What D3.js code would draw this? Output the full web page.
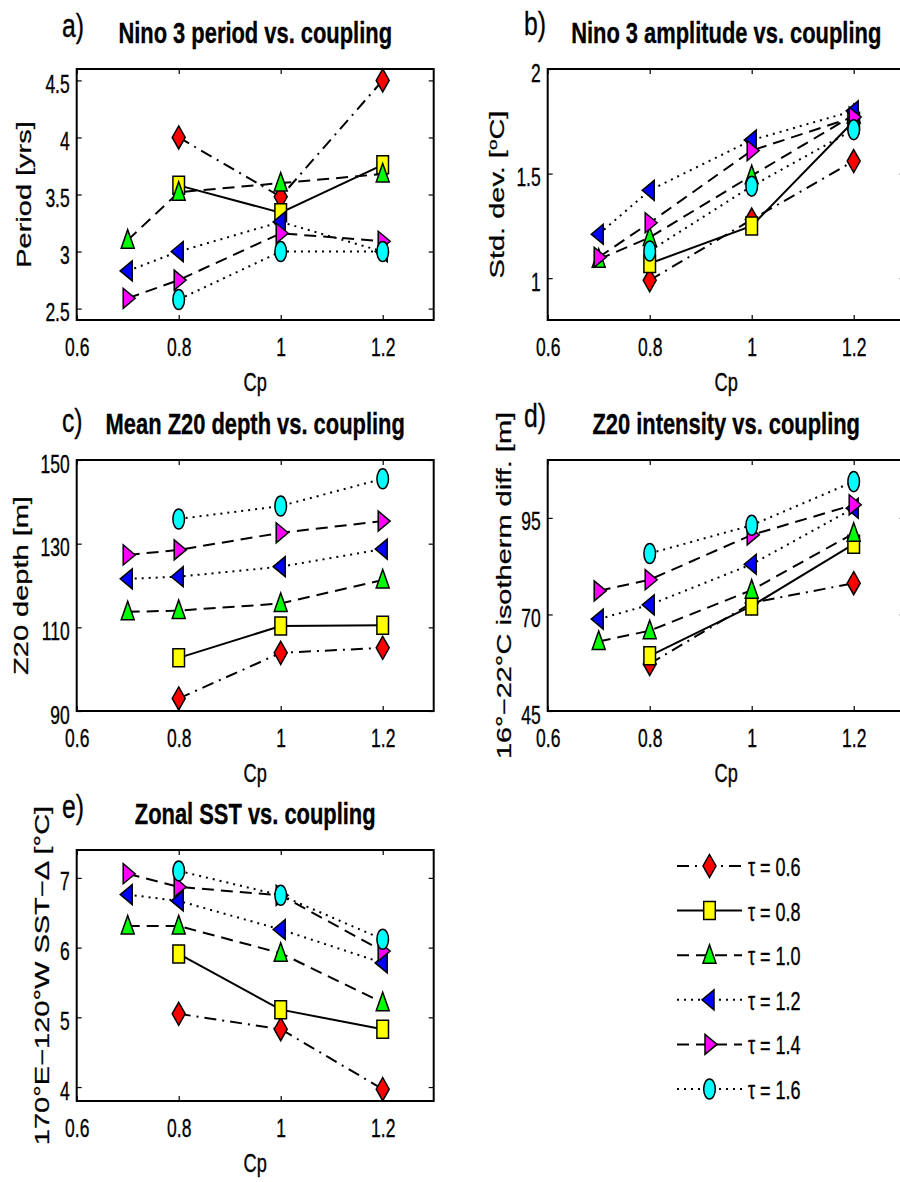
<!DOCTYPE html>
<html>
<head>
<meta charset="utf-8">
<script src="https://cdn.jsdelivr.net/npm/d3@7"></script>
<style>
  body { margin: 0; background: #fff; }
  svg { display: block; }
  text { font-family: "Liberation Sans", Arial, Helvetica, sans-serif; fill: #000; stroke: #000; stroke-width: 0.35px; }
</style>
</head>
<body>
<svg id="fig" width="900" height="1182"></svg>
<script>
// Coupling values (x axis) shared by all panels
const cpValues = [0.7, 0.8, 1.0, 1.2];
const cpTicks = [0.6, 0.8, 1, 1.2];

// Series labels, one per tau
const tauLabels = ['τ = 0.6', 'τ = 0.8', 'τ = 1.0', 'τ = 1.2', 'τ = 1.4', 'τ = 1.6'];

// a) Nino 3 period [yrs], one row per tau, one column per Cp
const periodData = [
  [null, 4.00, 3.48, 4.50],
  [null, 3.58, 3.34, 3.76],
  [3.10, 3.52, 3.60, 3.68],
  [2.83, 3.00, 3.26, 3.00],
  [2.59, 2.75, 3.16, 3.09],
  [null, 2.58, 3.00, 3.00]
];
const periodTicks = [2.5, 3, 3.5, 4, 4.5];

// b) Nino 3 std. dev. [C]
const amplitudeData = [
  [null, 0.99, 1.28, 1.56],
  [null, 1.07, 1.25, 1.75],
  [1.09, 1.195, 1.49, 1.78],
  [1.21, 1.42, 1.66, 1.80],
  [1.10, 1.265, 1.61, 1.77],
  [null, 1.13, 1.44, 1.71]
];
const amplitudeTicks = [1, 1.5, 2];

// c) Mean Z20 depth [m]
const depthData = [
  [null, 93.0, 103.9, 105.1],
  [null, 102.7, 110.3, 110.5],
  [113.7, 114.0, 115.7, 121.3],
  [121.6, 122.1, 124.5, 128.7],
  [127.3, 128.5, 132.6, 135.4],
  [null, 135.9, 139.0, 145.5]
];
const depthTicks = [90, 110, 130, 150];

// d) 16-22C isotherm difference [m]
const intensityData = [
  [null, 57.2, 73.0, 78.1],
  [null, 59.3, 72.2, 88.2],
  [63.0, 65.8, 76.3, 91.0],
  [68.8, 72.5, 83.0, 97.5],
  [76.1, 79.0, 90.6, 98.4],
  [null, 85.8, 93.1, 104.4]
];
const intensityTicks = [45, 70, 95];

// e) Zonal SST difference [C]
const sstData = [
  [null, 5.05, 4.83, 3.97],
  [null, 5.91, 5.11, 4.83],
  [6.31, 6.31, 5.92, 5.21],
  [6.76, 6.67, 6.26, 5.78],
  [7.06, 6.87, 6.75, 5.95],
  [null, 7.10, 6.75, 6.12]
];
const sstTicks = [4, 5, 6, 7];

// styles per tau
const markerColors = ['#ff0000', '#ffff00', '#00ff00', '#0000ff', '#ff00ff', '#00ffff'];
const markerTypes = ['diamond', 'square', 'up', 'left', 'right', 'circle'];
const dashes = ['12,6,2,6', null, '12,7', '2,5', '12,7', '2,5'];

const W = 357, H = 251;
const SX = 0.7; // horizontal squeeze of the original figure

const panels = [
  { letter: 'a)', left: 76.7, top: 69, domain: [2.4, 4.6], ticks: periodTicks, data: periodData,
    title: 'Nino 3 period vs. coupling', ylabel: ['Period [yrs]'], lx: 62, ly: -32, ylx: 31 },
  { letter: 'b)', left: 547.7, top: 69, domain: [0.8, 2.0], ticks: amplitudeTicks, data: amplitudeData,
    title: 'Nino 3 amplitude vs. coupling', ylabel: ['Std. dev. [', 'o', 'C]'], lx: 524, ly: -34, ylx: 504 },
  { letter: 'c)', left: 76.7, top: 460, domain: [90, 150], ticks: depthTicks, data: depthData,
    title: 'Mean Z20 depth vs. coupling', ylabel: ['Z20 depth [m]'], lx: 62, ly: -28, ylx: 28 },
  { letter: 'd)', left: 547.7, top: 460, domain: [45, 110], ticks: intensityTicks, data: intensityData,
    title: 'Z20 intensity vs. coupling', ylabel: ['16°−22°C isotherm diff. [m]'], lx: 524, ly: -33, ylx: 511 },
  { letter: 'e)', left: 76.7, top: 850, domain: [3.8, 7.4], ticks: sstTicks, data: sstData,
    title: 'Zonal SST vs. coupling', ylabel: ['170°E−120°W SST−Δ [°C]'], lx: 62, ly: -32, ylx: 49 }
];

function markerPath(type) {
  switch (type) {
    case 'diamond': return 'M0,-11.5L6.5,0L0,11.5L-6.5,0Z';
    case 'square': return 'M-5.8,-9H5.8V9H-5.8Z';
    case 'up': return 'M0,-10.5L6.5,8L-6.5,8Z';
    case 'left': return 'M-7.5,0L4.5,-10L4.5,10Z';
    case 'right': return 'M7.5,0L-4.5,-10L-4.5,10Z';
    default: return 'M-5.8,0A5.8,10 0 1,0 5.8,0A5.8,10 0 1,0 -5.8,0Z';
  }
}

function squeezedText(g, x, y, str, size, opts = {}) {
  const sx = opts.sx || SX;
  const t = g.append('text')
    .attr('transform', `translate(${x},${y}) scale(${sx},1)` + (opts.rotate ? ' rotate(-90)' : ''))
    .attr('font-size', size)
    .attr('text-anchor', opts.anchor || 'start')
    .attr('font-weight', opts.bold ? 'bold' : null);
  if (typeof str === 'string') t.text(str);
  return t;
}

const svg = d3.select('#fig');
const x = d3.scaleLinear().domain([0.6, 1.3]).range([0, W]);

panels.forEach(p => {
  const g = svg.append('g').attr('transform', `translate(${p.left},${p.top})`);
  const y = d3.scaleLinear().domain(p.domain).range([H, 0]);

  // axes with inward ticks on all four sides
  const bottom = g.append('g').attr('transform', `translate(0,${H})`)
    .call(d3.axisBottom(x).tickValues(cpTicks).tickSizeInner(-5).tickSizeOuter(0).tickFormat(d => String(d)));
  bottom.selectAll('text')
    .attr('y', 36.5).attr('dy', null)
    .attr('font-size', 25)
    .attr('transform', `scale(${SX},1)`);

  const left = g.append('g')
    .call(d3.axisLeft(y).tickValues(p.ticks).tickSizeInner(-5).tickSizeOuter(0).tickFormat(d => String(d)));
  left.selectAll('text')
    .attr('x', -7 / SX).attr('y', 12).attr('dy', null)
    .attr('font-size', 25)
    .attr('transform', `scale(${SX},1)`);

  g.append('g').call(d3.axisTop(x).tickValues(cpTicks).tickSizeInner(-5).tickSizeOuter(0).tickFormat(''));
  g.append('g').attr('transform', `translate(${W},0)`)
    .call(d3.axisRight(y).tickValues(p.ticks).tickSizeInner(-5).tickSizeOuter(0).tickFormat(''));

  g.selectAll('.domain').remove();
  g.selectAll('.tick line').attr('stroke', '#000').attr('stroke-width', 1.2);

  g.append('rect')
    .attr('width', W).attr('height', H)
    .attr('fill', 'none').attr('stroke', '#000').attr('stroke-width', 2);

  // series
  const line = d3.line()
    .defined(d => d[1] != null)
    .x(d => x(d[0]))
    .y(d => y(d[1]));

  p.data.forEach((row, i) => {
    const pts = row.map((v, j) => [cpValues[j], v]);
    g.append('path')
      .attr('d', line(pts))
      .attr('fill', 'none')
      .attr('stroke', '#000')
      .attr('stroke-width', 2)
      .attr('stroke-dasharray', dashes[i]);
    g.selectAll(null)
      .data(pts.filter(d => d[1] != null))
      .join('path')
      .attr('transform', d => `translate(${x(d[0])},${y(d[1])})`)
      .attr('d', markerPath(markerTypes[i]))
      .attr('fill', markerColors[i])
      .attr('stroke', '#000')
      .attr('stroke-width', 1.5)
      .attr('stroke-linejoin', 'miter');
  });

  // title, panel letter, axis labels
  squeezedText(g, W / 2, -26, p.title, 30, { anchor: 'middle', bold: true, sx: 0.73 });
  squeezedText(svg, p.lx, p.top + p.ly, p.letter, 33, { sx: 0.75 });
  squeezedText(g, W / 2, H + 71, 'Cp', 26, { anchor: 'middle' });

  const yl = squeezedText(svg, p.ylx, p.top + H / 2, null, 29, { anchor: 'middle', rotate: true, sx: 0.7 });
  if (p.ylabel.length === 1) {
    yl.text(p.ylabel[0]);
  } else {
    yl.append('tspan').text(p.ylabel[0]);
    yl.append('tspan').attr('font-size', 19).attr('dy', -10).text(p.ylabel[1]);
    yl.append('tspan').attr('dy', 10).text(p.ylabel[2]);
  }
});

// legend
const legend = svg.append('g').attr('transform', 'translate(677,866)');
const rowY = d3.scalePoint().domain(d3.range(tauLabels.length)).range([0, 223]);
tauLabels.forEach((label, i) => {
  const row = legend.append('g').attr('transform', `translate(0,${rowY(i)})`);
  row.append('line')
    .attr('x1', 0).attr('x2', 65)
    .attr('stroke', '#000').attr('stroke-width', 2)
    .attr('stroke-dasharray', dashes[i]);
  row.append('path')
    .attr('transform', 'translate(32.5,0)')
    .attr('d', markerPath(markerTypes[i]))
    .attr('fill', markerColors[i])
    .attr('stroke', '#000').attr('stroke-width', 1.5);
  squeezedText(row, 71, 10, label, 25, { sx: 0.72 });
});
</script>
</body>
</html>
